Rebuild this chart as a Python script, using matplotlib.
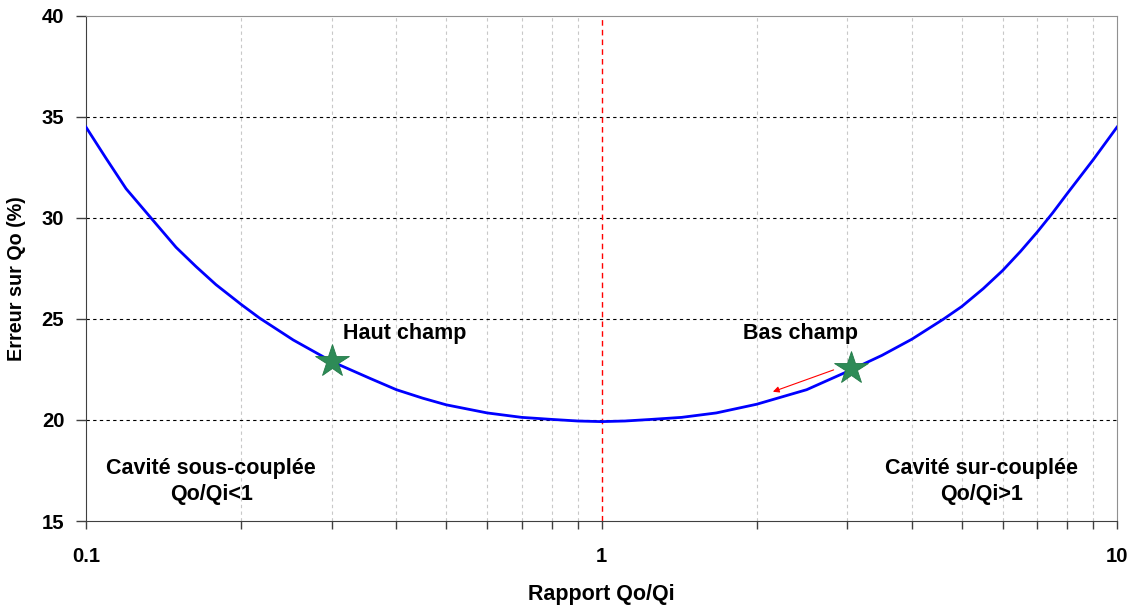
import matplotlib
matplotlib.use('Agg')
import matplotlib.pyplot as plt
from matplotlib.ticker import FixedLocator, NullFormatter

plt.rcParams['font.family'] = ['Liberation Sans', 'DejaVu Sans']
plt.rcParams['font.weight'] = 'bold'

# curve (Qo/Qi ratio vs error in %)
ratio = [0.1, 0.1094, 0.1196, 0.1337, 0.1495, 0.1634, 0.1787, 0.2, 0.217, 0.2524, 0.3, 0.3556,
         0.4, 0.45, 0.5, 0.6, 0.7, 0.8, 0.9, 1.0, 1.11, 1.25, 1.43, 1.67, 2.0, 2.5, 3.0, 3.5,
         4.0, 4.61, 5.0, 5.5, 6.0, 6.5, 7.0, 7.5, 8.0, 9.0, 10.0]
erreur = [34.5, 32.95, 31.45, 30.0, 28.55, 27.6, 26.7, 25.72, 25.05, 23.96, 22.89, 22.06,
          21.5, 21.08, 20.75, 20.35, 20.13, 20.03, 19.95, 19.92, 19.95, 20.03, 20.13, 20.35, 20.78, 21.5, 22.4, 23.2,
          24.0, 25.0, 25.62, 26.5, 27.4, 28.35, 29.3, 30.25, 31.2, 32.9, 34.5]

stars_x = [0.3, 3.05]
stars_y = [22.9, 22.55]
arrow_from = (2.82, 22.48)
arrow_to = (2.15, 21.4)

xlabels = ['0.1', '1', '10']
yticks = [15, 20, 25, 30, 35, 40]

fig = plt.figure(figsize=(11.36, 6.10), dpi=100)
ax = fig.add_axes([0.0757, 0.1459, 0.9076, 0.8279])
ax.set_xscale('log')
ax.set_xlim(0.1, 10)
ax.set_ylim(15, 40)

minors = [m * d for d in (0.1, 1) for m in range(2, 10)]
for xm in minors:
    ax.axvline(xm, color='#c8c8c8', lw=0.8, ls=(0, (3, 3)), zorder=1)
for yv in [20, 25, 30, 35]:
    ax.axhline(yv, color='black', lw=0.8, ls=(0, (3, 3)), zorder=1)
ax.axvline(1, color='red', lw=1.0, ls=(0, (4, 3)), zorder=2)

ax.plot(ratio, erreur, color='#0000ff', lw=2.0, zorder=3, solid_joinstyle='round')
ax.plot(stars_x, stars_y, ls='none', marker='*', markersize=25,
        color='#2e8b57', markeredgecolor='#237a48', markeredgewidth=0.6, zorder=4)
ax.annotate('', xy=arrow_to, xytext=arrow_from,
            arrowprops=dict(arrowstyle='-|>', color='red', lw=0.8,
                            mutation_scale=9, shrinkA=0, shrinkB=0), zorder=5)

ax.text(0.315, 24.3, 'Haut champ', fontsize=15.5, fontweight='bold', ha='left', va='center')
ax.text(1.88, 24.3, 'Bas champ', fontsize=15.5, fontweight='bold', ha='left', va='center')
ax.text(0.175, 16.96, 'Cavité sous-couplée\nQo/Qi<1', fontsize=15.5, fontweight='bold',
        ha='center', va='center', linespacing=1.3)
ax.text(5.47, 16.96, 'Cavité sur-couplée\nQo/Qi>1', fontsize=15.5, fontweight='bold',
        ha='center', va='center', linespacing=1.3)

ax.xaxis.set_major_locator(FixedLocator([0.1, 1, 10]))
ax.set_xticklabels(xlabels)
ax.xaxis.set_minor_locator(FixedLocator(minors))
ax.xaxis.set_minor_formatter(NullFormatter())
ax.set_yticks(yticks)
ax.tick_params(axis='x', which='both', direction='out', length=6, width=1,
               color='#404040', pad=13, labelsize=14.6)
ax.tick_params(axis='y', direction='out', length=7, width=1, color='#404040',
               pad=8.6, labelsize=14.6)

for s in ['left', 'bottom']:
    ax.spines[s].set_color('#404040')
for s in ['top', 'right']:
    ax.spines[s].set_color('#909090')

ax.set_xlabel('Rapport Qo/Qi', fontsize=15.5, fontweight='bold', labelpad=13)
ax.set_ylabel('Erreur sur Qo (%)', fontsize=14.2, fontweight='bold', labelpad=10)
ax.yaxis.set_label_coords(-0.058, 0.48)

plt.savefig('out.png', dpi=100)
